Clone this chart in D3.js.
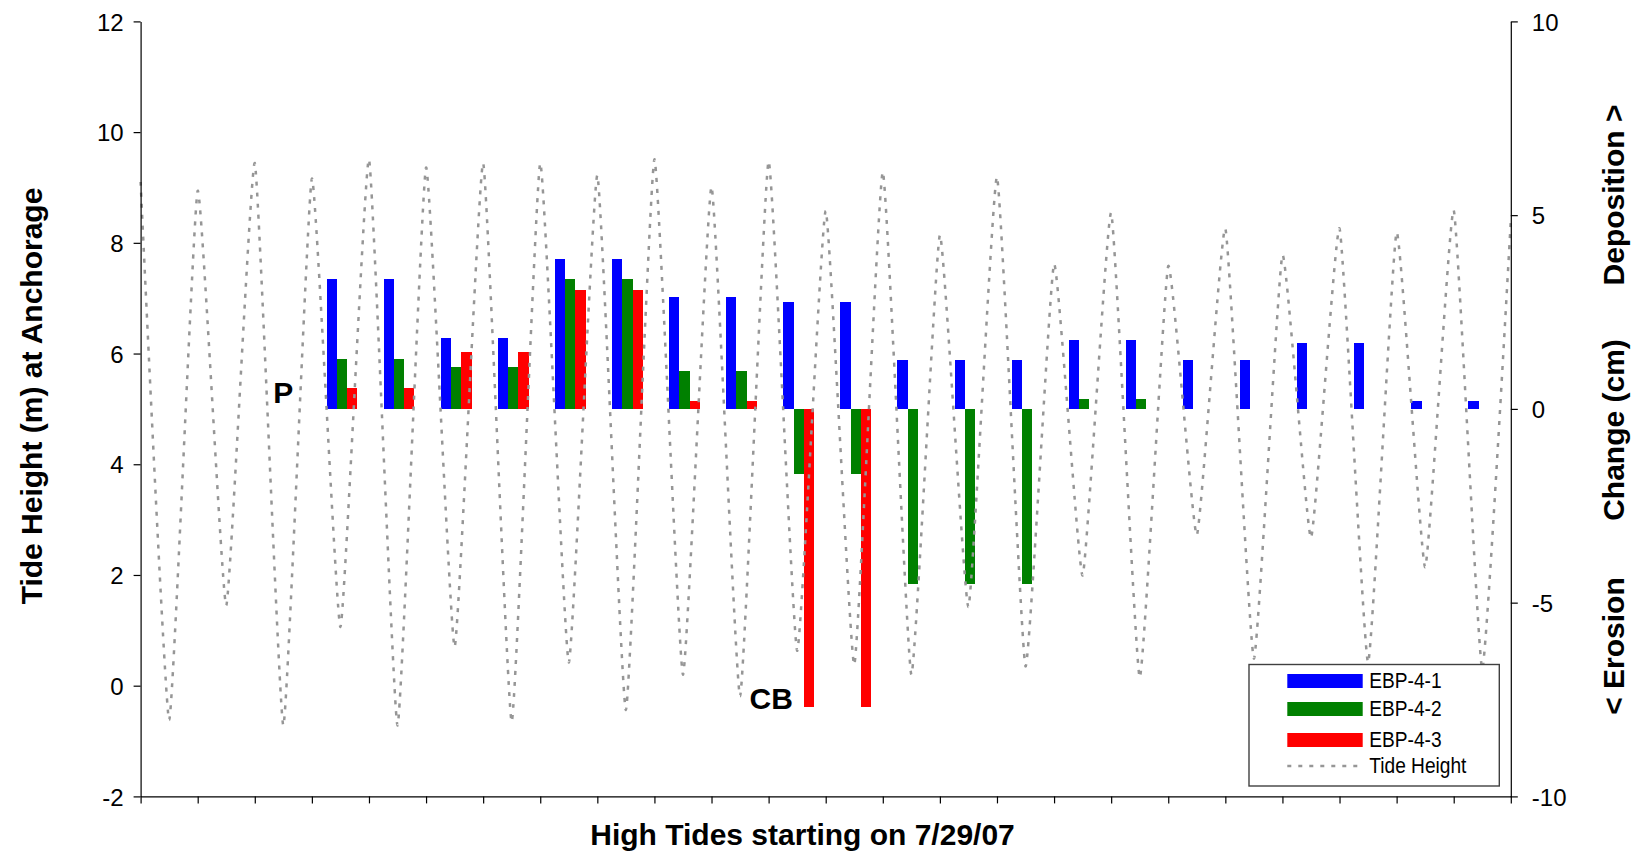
<!DOCTYPE html>
<html><head><meta charset="utf-8">
<script src="https://cdn.jsdelivr.net/npm/d3@7"></script>
<style>
html,body{margin:0;padding:0;background:#fff;}
svg{display:block;}
text{font-family:"Liberation Sans", Arial, sans-serif;fill:#000;}
</style></head><body>
<svg id="chart" width="1644" height="857"></svg>
<script>
// ---- data ----
const categories = ["1","2","3","4","5","6","7","8","9","10","11","12","13","14","15","16","17","18","19","20","21","22","23","24"];
// bed elevation change (cm), null = no bar
const ebp41 = [null,null,null,3.34,3.34,1.84,1.84,3.88,3.88,2.90,2.90,2.77,2.77,1.25,1.25,1.25,1.79,1.79,1.25,1.25,1.69,1.69,0.21,0.21];
const ebp42 = [null,null,null,1.30,1.30,1.09,1.09,3.34,3.34,0.97,0.97,-1.68,-1.68,-4.53,-4.53,-4.53,0.26,0.26,null,null,null,null,null,null];
const ebp43 = [null,null,null,0.53,0.53,1.46,1.46,3.06,3.06,0.21,0.21,-7.69,-7.69,null,null,null,null,null,null,null,null,null,null,null];
const seriesNames = ["EBP-4-1","EBP-4-2","EBP-4-3"];
// tide height (m) at Anchorage: high tides at category edges, low tides at centres
const tideHighs = [9.10,8.94,9.44,9.16,9.51,9.36,9.44,9.44,9.22,9.51,9.01,9.47,8.58,9.28,8.14,9.19,7.62,8.54,7.58,8.26,7.78,8.26,8.19,8.59,8.40];
const tideLows  = [-0.62,1.45,-0.72,1.06,-0.72,0.70,-0.65,0.42,-0.44,0.20,-0.19,0.63,0.38,0.20,1.42,0.35,1.99,0.15,2.72,0.49,2.67,0.42,2.14,0.30];
const leftTicks = [-2,0,2,4,6,8,10,12];
const rightTicks = [-10,-5,0,5,10];
const annotations = [{text:"P", cat:"3", value:0, kind:"above"},{text:"CB", cat:"12", value:-7.69, kind:"bar"}];

// ---- layout ----
const xL=140.6, xR=1510.8, yT=21.4, yB=796.4;
const colors = {"EBP-4-1":"#0000FF","EBP-4-2":"#008000","EBP-4-3":"#FF0000"};
const svg = d3.select("#chart");

const x = d3.scaleBand().domain(categories).range([xL,xR]).padding(0);
const cw = x.bandwidth();
const xt = d3.scaleLinear().domain([0,categories.length]).range([xL,xR]);
const yL = d3.scaleLinear().domain([-2,12]).range([yB,yT]);
const yR = d3.scaleLinear().domain([-10,10]).range([yB,yT]);
const sub = d3.scaleBand().domain(seriesNames).range([cw*0.257, cw*0.257+cw*0.54]).padding(0);

// bars
const seriesVals = {"EBP-4-1":ebp41,"EBP-4-2":ebp42,"EBP-4-3":ebp43};
seriesNames.forEach(name=>{
  const vals = seriesVals[name];
  svg.append("g").attr("shape-rendering","crispEdges")
    .selectAll("rect")
    .data(categories.map((c,i)=>({c, v:vals[i]})).filter(d=>d.v!==null))
    .join("rect")
    .attr("x", d=>x(d.c)+sub(name))
    .attr("width", sub.bandwidth())
    .attr("y", d=>yR(Math.max(0,d.v)))
    .attr("height", d=>Math.abs(yR(d.v)-yR(0)))
    .attr("fill", colors[name]);
});

// tide line
const tidePts = [];
tideHighs.forEach((v,i)=>{ tidePts.push([i,v]); if(i<tideLows.length) tidePts.push([i+0.5,tideLows[i]]); });
svg.append("path").datum(tidePts)
  .attr("d", d3.line().x(d=>xt(d[0])).y(d=>yL(d[1])).curve(d3.curveCardinal.tension(0.6)))
  .attr("fill","none").attr("stroke","#969696").attr("stroke-width",2.5)
  .attr("stroke-dasharray","4,7");

// axes
const axL = svg.append("g").attr("transform",`translate(${xL},0)`)
  .call(d3.axisLeft(yL).tickValues(leftTicks).tickSize(7).tickSizeOuter(0).tickPadding(10).tickFormat(d=>String(d)));
const axR = svg.append("g").attr("transform",`translate(${xR},0)`)
  .call(d3.axisRight(yR).tickValues(rightTicks).tickSize(7).tickSizeOuter(0).tickPadding(14).tickFormat(d=>String(d)));
const axB = svg.append("g").attr("transform",`translate(0,${yB})`)
  .call(d3.axisBottom(xt).tickValues(d3.range(0,categories.length+1)).tickSize(7).tickSizeOuter(0).tickFormat(""));
[axL,axR,axB].forEach(a=>{
  a.selectAll("path,line").attr("stroke","#000").attr("stroke-width",1.2);
  a.selectAll("text").attr("font-size",24).attr("font-family","Liberation Sans, Arial, sans-serif").attr("fill","#000").attr("dy","0.36em");
});

// titles
svg.append("text").attr("transform",`translate(31.5,396) rotate(-90)`).attr("text-anchor","middle").attr("dy","0.35em")
  .attr("font-size",30).attr("font-weight","bold").text("Tide Height (m) at Anchorage");
svg.append("text").attr("x",802.5).attr("y",845).attr("text-anchor","middle")
  .attr("font-size",30).attr("font-weight","bold").text("High Tides starting on 7/29/07");
[["Deposition >",195],["Change (cm)",430],["< Erosion",646]].forEach(([t,cy])=>{
  svg.append("text").attr("transform",`translate(1613,${cy}) rotate(-90)`).attr("text-anchor","middle").attr("dy","0.35em")
    .attr("font-size",30).attr("font-weight","bold").text(t);
});

// annotations
annotations.forEach(a=>{
  const t = svg.append("text").attr("font-size",30).attr("font-weight","bold").text(a.text);
  if(a.kind==="above"){
    t.attr("x", x(a.cat)+cw/2).attr("y", yR(a.value)-6).attr("text-anchor","middle");
  } else {
    t.attr("x", x(a.cat)+sub("EBP-4-3")-11).attr("y", yR(a.value)+2).attr("text-anchor","end");
  }
});

// legend
const lg = svg.append("g");
lg.append("rect").attr("x",1249).attr("y",664.5).attr("width",250.3).attr("height",121.5)
  .attr("fill","#fff").attr("stroke","#404040").attr("stroke-width",1.4);
const rowsY = [681, 709, 740, 766];
seriesNames.forEach((n,i)=>{
  lg.append("rect").attr("x",1287.3).attr("y",rowsY[i]-7).attr("width",75.4).attr("height",14).attr("fill",colors[n]);
  lg.append("text").attr("transform",`translate(1369.3,${rowsY[i]+6.5}) scale(0.87,1)`).attr("font-size",22).text(n);
});
lg.append("line").attr("x1",1287.3).attr("x2",1362.7).attr("y1",rowsY[3]).attr("y2",rowsY[3])
  .attr("stroke","#969696").attr("stroke-width",2.5).attr("stroke-dasharray","4,7");
lg.append("text").attr("transform",`translate(1369.3,${rowsY[3]+7}) scale(0.87,1)`).attr("font-size",22).text("Tide Height");
</script>
</body></html>
